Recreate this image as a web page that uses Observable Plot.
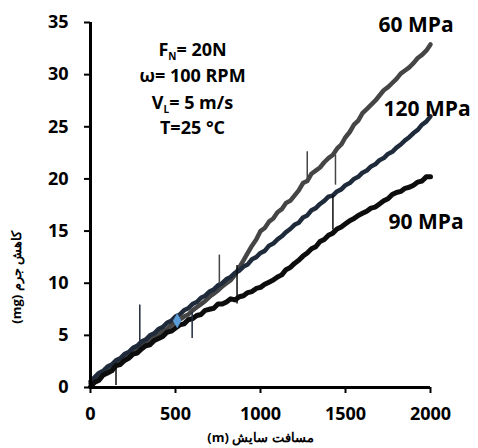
<!DOCTYPE html>
<html><head><meta charset="utf-8">
<script src="https://cdn.jsdelivr.net/npm/d3@7"></script>
<script src="https://cdn.jsdelivr.net/npm/@observablehq/plot@0.6"></script>
<style>body{margin:0;background:#fff} svg{display:block}</style>
</head><body><div id="chart"></div>
<script>
// Sliding distance (m)
const dist = [0,25,50,75,100,125,150,175,200,225,250,275,300,325,350,375,400,425,450,475,500,525,550,575,600,625,650,675,700,725,750,775,800,825,850,875,900,925,950,975,1000,1025,1050,1075,1100,1125,1150,1175,1200,1225,1250,1275,1300,1325,1350,1375,1400,1425,1450,1475,1500,1525,1550,1575,1600,1625,1650,1675,1700,1725,1750,1775,1800,1825,1850,1875,1900,1925,1950,1975,2000];
// Mass loss (mg)
const mpa60 = [0.4,0.9,1.1,1.5,1.7,2.1,2.3,2.6,2.9,3.2,3.4,3.8,4.0,4.3,4.5,4.9,5.1,5.4,5.6,6.0,6.2,6.5,6.8,7.0,7.4,7.7,8.0,8.3,8.7,9.0,9.3,9.7,10.0,10.3,10.8,11.5,12.2,12.9,13.6,14.2,15.0,15.3,15.9,16.2,16.8,17.1,17.7,17.9,18.4,18.9,19.6,19.8,20.5,20.8,21.1,21.6,22.0,22.3,22.9,23.3,24.0,24.5,25.2,25.6,26.3,26.7,27.1,27.5,28.0,28.5,28.8,29.2,29.6,30.1,30.4,30.7,31.1,31.6,31.9,32.3,32.9];
const mpa120 = [0.6,1.0,1.4,1.6,2.0,2.2,2.6,2.8,3.2,3.4,3.8,4.0,4.4,4.6,5.0,5.2,5.6,5.8,6.2,6.4,6.8,7.0,7.4,7.6,8.0,8.2,8.6,8.8,9.2,9.4,9.8,10.0,10.4,10.6,11.0,11.2,11.6,11.8,12.3,12.5,12.9,13.1,13.6,13.8,14.2,14.5,14.9,15.2,15.6,15.8,16.3,16.5,17.0,17.2,17.6,17.9,18.3,18.4,18.8,19.0,19.4,19.6,20.0,20.2,20.6,20.8,21.2,21.4,21.8,22.0,22.4,22.6,23.0,23.3,23.7,24.0,24.4,24.7,25.2,25.5,26.0];
const mpa90 = [0.1,0.5,0.7,1.2,1.4,1.6,2.1,2.2,2.6,2.8,3.2,3.3,3.7,4.0,4.1,4.5,4.7,4.9,5.3,5.4,5.7,6.0,6.1,6.5,6.6,6.9,7.0,7.4,7.5,7.6,8.0,8.0,8.2,8.5,8.4,8.7,8.8,9.1,9.2,9.5,9.6,9.9,10.1,10.3,10.6,10.8,11.3,11.5,11.9,12.2,12.6,12.9,13.3,13.5,14.0,14.2,14.6,14.8,15.2,15.4,15.7,16.0,16.2,16.5,16.7,16.9,17.2,17.3,17.6,17.9,18.1,18.5,18.7,18.8,19.1,19.2,19.4,19.7,19.8,20.2,20.2];

const seriesNames = ["60 MPa", "120 MPa", "90 MPa"];
const seriesColors = ["#454545", "#1f2b3b", "#0d0d0d"];
const labelDist = [1694, 1724, 1753];
const labelVal = [34.7, 26.7, 15.8];

// glitches (vertical spikes) in the recorded signals
const spikeDist = [150, 290, 598, 758, 862, 1275, 1426, 1441];
const spikeLow = [0.2, 4.4, 4.7, 9.9, 8.0, 20.0, 15.1, 19.4];
const spikeHigh = [2.3, 7.9, 7.2, 12.7, 11.7, 22.6, 18.4, 22.3];
const spikeSeries = ["90 MPa", "120 MPa", "120 MPa", "60 MPa", "90 MPa", "60 MPa", "90 MPa", "60 MPa"];

const markerDist = [510];
const markerVal = [6.4];

const notes = ["F_N= 20N", "ω= 100 RPM", "V_L= 5 m/s", "T=25 °C"];
const noteDist = [600, 600, 600, 600];
const noteVal = [32.3, 29.8, 27.3, 24.9];

const xTicks = [0, 500, 1000, 1500, 2000];
const yTicks = [0, 5, 10, 15, 20, 25, 30, 35];
const xTitle = "مسافت سایش (m)";
const yTitle = "کاهش جرم (mg)";

const values = [mpa60, mpa120, mpa90];
const rows = [];
seriesNames.forEach((name, i) => dist.forEach((d, j) => rows.push({series: name, d, v: values[i][j]})));
const spikes = spikeDist.map((d, i) => ({d, lo: spikeLow[i], hi: spikeHigh[i], series: spikeSeries[i]}));
const labels = seriesNames.map((name, i) => ({name, d: labelDist[i], v: labelVal[i]}));
const noteRows = notes.map((t, i) => ({t, d: noteDist[i], v: noteVal[i]}));
const markers = markerDist.map((d, i) => ({d, v: markerVal[i]}));
const colorOf = name => seriesColors[seriesNames.indexOf(name)];

const chart = Plot.plot({
  width: 478, height: 448,
  marginLeft: 90, marginRight: 48, marginTop: 22, marginBottom: 61,
  style: {fontFamily: "'Open Sans', sans-serif", background: "#fff", overflow: "visible", color: "#000"},
  x: {domain: [0, 2000]},
  y: {domain: [0, 35]},
  marks: [
    Plot.line(rows.filter(r => r.series === "60 MPa"), {x: "d", y: "v", stroke: colorOf("60 MPa"), strokeWidth: 4.5}),
    Plot.line(rows.filter(r => r.series === "120 MPa"), {x: "d", y: "v", stroke: colorOf("120 MPa"), strokeWidth: 4.5}),
    Plot.line(rows.filter(r => r.series === "90 MPa"), {x: "d", y: "v", stroke: colorOf("90 MPa"), strokeWidth: 5}),
    Plot.ruleX(spikes, {x: "d", y1: "lo", y2: "hi", stroke: d => colorOf(d.series), strokeWidth: 1.5}),
    Plot.dot(markers, {x: "d", y: "v", symbol: "diamond", r: 4.5, fill: "#5B9BD5"}),
    Plot.ruleX([0], {stroke: "#000", strokeWidth: 3}),
    Plot.ruleY([0], {stroke: "#000", strokeWidth: 3}),
    Plot.axisY(yTicks, {tickSize: 6, tickPadding: 16, strokeWidth: 2, fontSize: 18, fontWeight: 700, label: null, tickFormat: d => String(d)}),
    Plot.axisX(xTicks, {tickSize: 6, tickPadding: 14, strokeWidth: 2, fontSize: 18, fontWeight: 700, label: null, tickFormat: d => String(d)}),
    Plot.text(labels, {x: "d", y: "v", text: "name", textAnchor: "start", fontSize: 21, fontWeight: 700, fill: "#000"}),
    Plot.text(noteRows, {x: "d", y: "v", text: "t", fontSize: 18, fontWeight: 700, fill: "#000"}),
    Plot.text([xTitle], {frameAnchor: "bottom", dy: 54, fontSize: 13, fontWeight: 700, fill: "#000"}),
    Plot.text([yTitle], {frameAnchor: "left", dx: -74, dy: 26, rotate: -90, fontSize: 13, fontWeight: 700, fill: "#000"})
  ]
});

// subscripts and right-to-left text
chart.querySelectorAll("text").forEach(t => {
  const s = t.textContent;
  if (/[\u0600-\u06FF]/.test(s)) t.setAttribute("direction", "rtl");
  if (s.includes("_")) {
    const m = s.match(/^(.*?)_(\w)(.*)$/);
    while (t.firstChild) t.removeChild(t.firstChild);
    const ns = "http://www.w3.org/2000/svg";
    const a = document.createElementNS(ns, "tspan"); a.textContent = m[1];
    const b = document.createElementNS(ns, "tspan"); b.textContent = m[2];
    b.setAttribute("font-size", "10"); b.setAttribute("dy", "4");
    const c = document.createElementNS(ns, "tspan"); c.textContent = m[3]; c.setAttribute("dy", "-4");
    t.append(a, b, c);
  }
});
document.getElementById("chart").append(chart);
</script>
</body></html>
